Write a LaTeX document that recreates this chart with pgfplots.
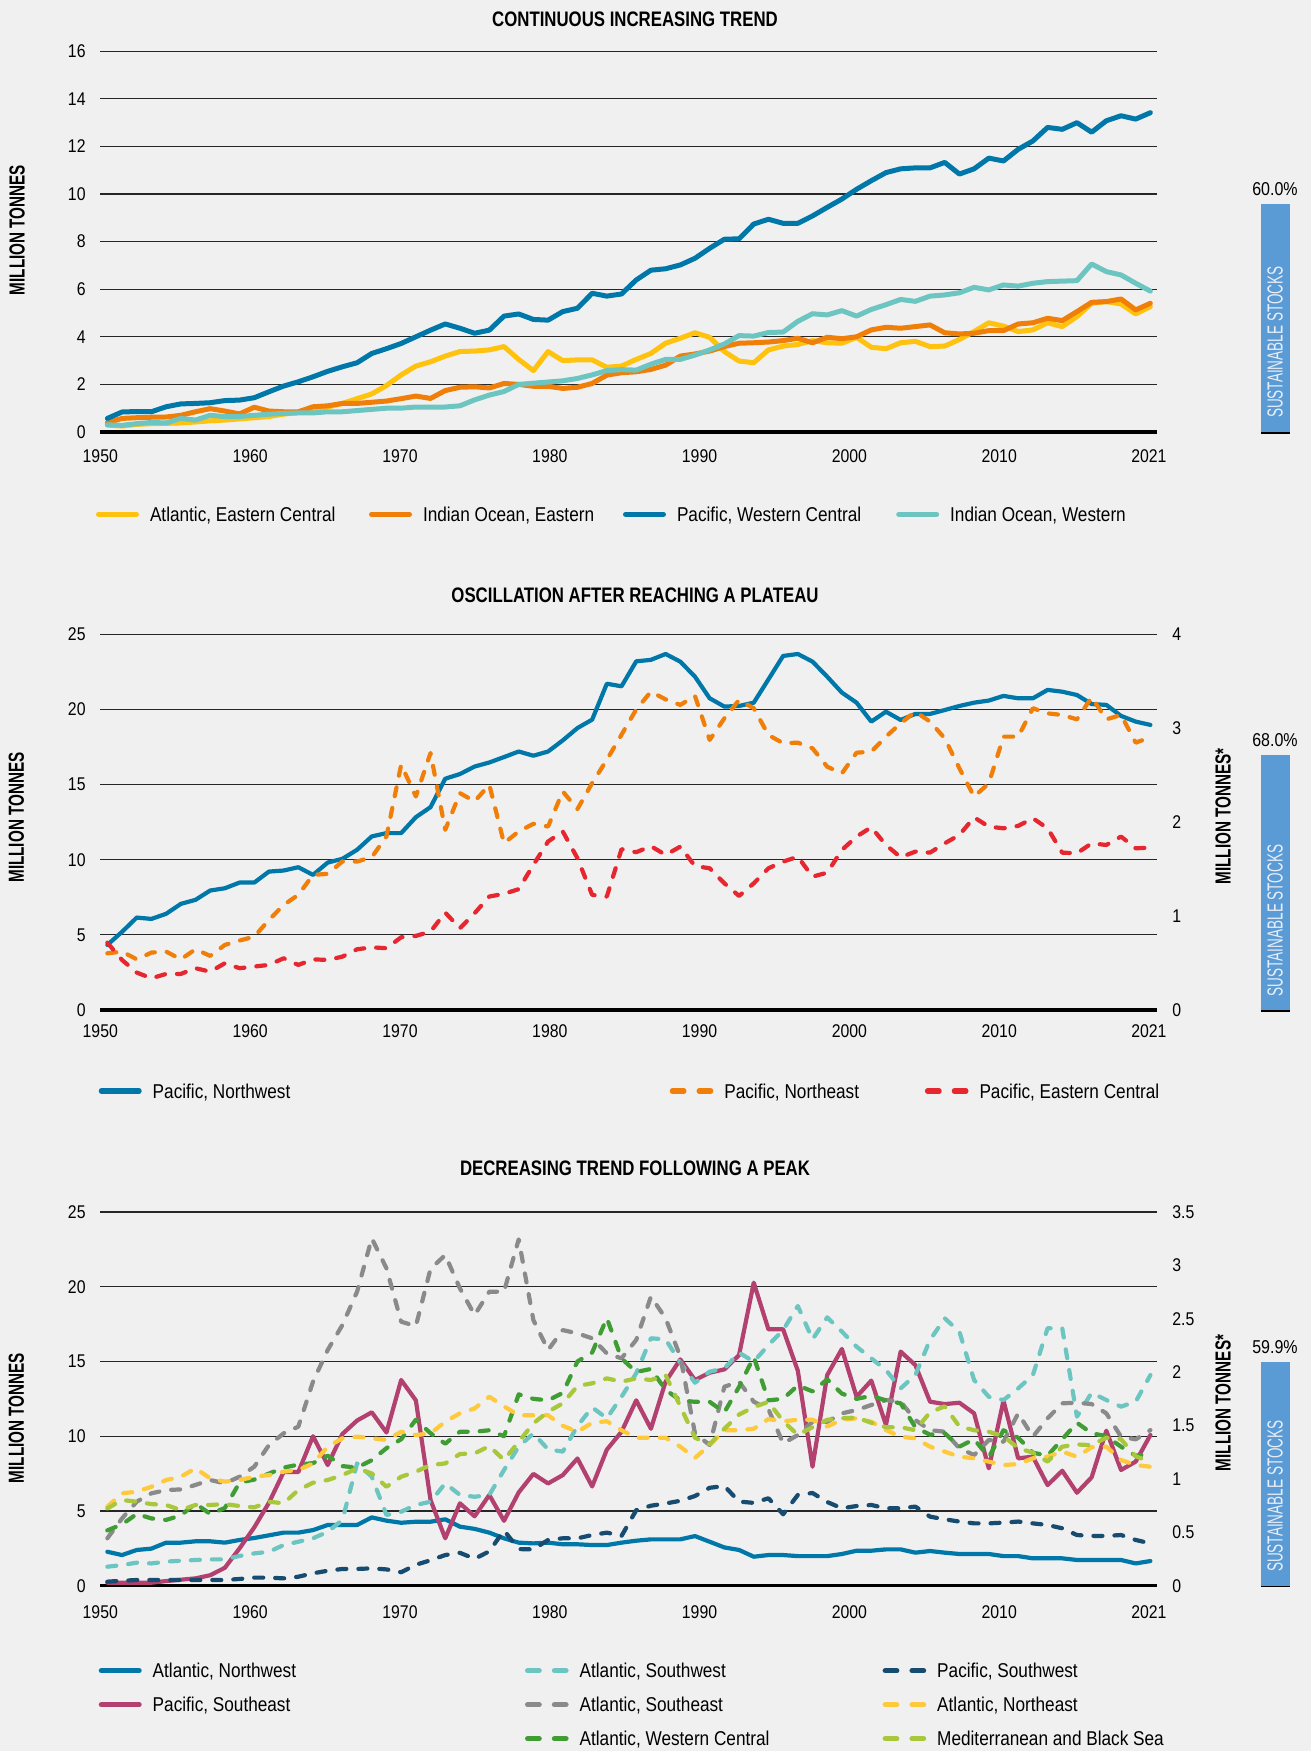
\documentclass[border=0pt]{standalone}
\usepackage{fontspec}
\setmainfont{Liberation Sans}
\newfontfamily\condf[FakeStretch=0.86]{Liberation Sans}
\newfontfamily\titlef[FakeStretch=0.80]{Liberation Sans}
\newfontfamily\labf[FakeStretch=0.70]{Liberation Sans}
\newfontfamily\barf[FakeStretch=0.62]{Liberation Sans}
\usepackage{pgfplots}
\usepackage{pgfplotstable}
\pgfplotsset{compat=1.18}

\definecolor{bgc}{HTML}{F0F0F0}
\definecolor{cblue}{HTML}{0077A9}
\definecolor{cyellow}{HTML}{FFC20E}
\definecolor{corange}{HTML}{F07F09}
\definecolor{cteal}{HTML}{6CC5C0}
\definecolor{cred}{HTML}{E6272F}
\definecolor{cpink}{HTML}{B3416F}
\definecolor{cgray}{HTML}{8A8A8A}
\definecolor{cgreen}{HTML}{3F9D34}
\definecolor{cnavy}{HTML}{174C70}
\definecolor{cgold}{HTML}{FFC93C}
\definecolor{clime}{HTML}{A9C73A}
\definecolor{cbar}{HTML}{5B9BD5}
\definecolor{cbartext}{HTML}{E8EEF7}

\pgfplotstableread[row sep=\\]{
year aec ioe pwc iow\\
1950 0.29 0.39 0.57 0.30\\
1951 0.25 0.57 0.84 0.28\\
1952 0.32 0.60 0.86 0.35\\
1953 0.35 0.62 0.85 0.40\\
1954 0.36 0.63 1.06 0.38\\
1955 0.38 0.70 1.18 0.57\\
1956 0.42 0.85 1.20 0.50\\
1957 0.47 0.98 1.23 0.70\\
1958 0.50 0.88 1.32 0.65\\
1959 0.55 0.76 1.34 0.65\\
1960 0.60 1.04 1.44 0.70\\
1961 0.65 0.88 1.69 0.75\\
1962 0.75 0.85 1.93 0.78\\
1963 0.82 0.85 2.11 0.80\\
1964 0.95 1.06 2.32 0.80\\
1965 1.05 1.10 2.55 0.85\\
1966 1.20 1.20 2.74 0.85\\
1967 1.40 1.20 2.91 0.90\\
1968 1.60 1.25 3.30 0.95\\
1969 1.95 1.30 3.50 1.00\\
1970 2.40 1.40 3.72 1.00\\
1971 2.77 1.51 4.00 1.05\\
1972 2.95 1.41 4.28 1.05\\
1973 3.19 1.74 4.54 1.05\\
1974 3.38 1.88 4.36 1.10\\
1975 3.40 1.90 4.15 1.35\\
1976 3.45 1.85 4.28 1.55\\
1977 3.59 2.04 4.87 1.70\\
1978 3.05 2.00 4.96 2.00\\
1979 2.58 1.92 4.73 2.05\\
1980 3.38 1.92 4.70 2.10\\
1981 3.00 1.83 5.06 2.15\\
1982 3.03 1.88 5.20 2.25\\
1983 3.03 2.04 5.83 2.40\\
1984 2.72 2.39 5.71 2.58\\
1985 2.77 2.49 5.80 2.62\\
1986 3.05 2.53 6.39 2.60\\
1987 3.30 2.63 6.80 2.85\\
1988 3.73 2.81 6.86 3.05\\
1989 3.94 3.19 7.02 3.05\\
1990 4.17 3.28 7.30 3.23\\
1991 3.98 3.40 7.72 3.45\\
1992 3.38 3.59 8.10 3.70\\
1993 2.98 3.73 8.12 4.05\\
1994 2.91 3.75 8.74 4.03\\
1995 3.45 3.78 8.94 4.18\\
1996 3.61 3.84 8.77 4.20\\
1997 3.68 3.94 8.77 4.65\\
1998 3.84 3.75 9.08 4.97\\
1999 3.75 3.98 9.44 4.92\\
2000 3.73 3.92 9.79 5.10\\
2001 3.98 4.00 10.20 4.87\\
2002 3.56 4.29 10.56 5.15\\
2003 3.50 4.40 10.90 5.35\\
2004 3.75 4.36 11.06 5.57\\
2005 3.81 4.43 11.10 5.49\\
2006 3.59 4.50 11.10 5.71\\
2007 3.61 4.17 11.33 5.76\\
2008 3.89 4.12 10.84 5.85\\
2009 4.22 4.15 11.06 6.08\\
2010 4.59 4.26 11.51 5.97\\
2011 4.45 4.26 11.39 6.18\\
2012 4.22 4.54 11.88 6.13\\
2013 4.29 4.59 12.23 6.25\\
2014 4.59 4.78 12.80 6.32\\
2015 4.43 4.68 12.72 6.34\\
2016 4.85 5.06 13.00 6.36\\
2017 5.41 5.45 12.60 7.06\\
2018 5.48 5.48 13.08 6.74\\
2019 5.38 5.59 13.29 6.60\\
2020 4.96 5.13 13.15 6.25\\
2021 5.27 5.41 13.42 5.92\\
}\tA

\pgfplotstableread[row sep=\\]{
year pnw pne pec\\
1950 4.33 3.77 4.48\\
1951 5.20 3.89 3.33\\
1952 6.15 3.37 2.49\\
1953 6.06 3.82 2.11\\
1954 6.40 3.89 2.40\\
1955 7.06 3.37 2.40\\
1956 7.33 4.04 2.78\\
1957 7.95 3.60 2.55\\
1958 8.10 4.33 3.11\\
1959 8.48 4.62 2.78\\
1960 8.48 4.88 2.89\\
1961 9.21 5.99 3.00\\
1962 9.28 6.99 3.44\\
1963 9.50 7.66 3.00\\
1964 8.99 8.99 3.37\\
1965 9.81 9.06 3.33\\
1966 10.06 9.88 3.55\\
1967 10.66 9.88 4.04\\
1968 11.55 10.17 4.17\\
1969 11.77 11.55 4.11\\
1970 11.77 16.32 4.84\\
1971 12.83 14.21 4.93\\
1972 13.50 17.10 5.22\\
1973 15.39 11.99 6.48\\
1974 15.70 14.43 5.44\\
1975 16.20 13.88 6.44\\
1976 16.47 14.99 7.55\\
1977 16.83 11.10 7.73\\
1978 17.20 11.88 8.04\\
1979 16.92 12.39 9.66\\
1980 17.20 12.21 11.21\\
1981 17.94 14.54 11.88\\
1982 18.76 13.37 10.10\\
1983 19.32 15.10 7.66\\
1984 21.71 16.65 7.55\\
1985 21.54 18.32 10.70\\
1986 23.20 20.00 10.50\\
1987 23.30 21.18 10.90\\
1988 23.69 20.67 10.32\\
1989 23.18 20.30 10.87\\
1990 22.18 20.90 9.58\\
1991 20.74 17.97 9.43\\
1992 20.19 19.41 8.43\\
1993 20.23 20.63 7.59\\
1994 20.45 20.08 8.43\\
1995 22.00 18.30 9.43\\
1996 23.56 17.75 9.87\\
1997 23.69 17.79 10.20\\
1998 23.18 17.41 8.87\\
1999 22.18 16.19 9.14\\
2000 21.12 15.75 10.65\\
2001 20.45 17.12 11.54\\
2002 19.19 17.19 12.16\\
2003 19.85 18.19 10.98\\
2004 19.30 19.08 10.16\\
2005 19.70 19.85 10.54\\
2006 19.70 19.19 10.47\\
2007 19.96 18.08 11.09\\
2008 20.23 16.08 11.65\\
2009 20.45 14.20 12.82\\
2010 20.59 15.08 12.20\\
2011 20.90 18.19 12.09\\
2012 20.74 18.19 12.25\\
2013 20.74 20.08 12.76\\
2014 21.30 19.74 12.09\\
2015 21.18 19.63 10.47\\
2016 20.96 19.34 10.43\\
2017 20.36 20.81 11.09\\
2018 20.30 19.34 10.98\\
2019 19.57 19.63 11.54\\
2020 19.19 17.79 10.76\\
2021 18.97 18.15 10.80\\
}\tB

\pgfplotstableread[row sep=\\]{
year anw pse asw ase awc psw ane med\\
1950 2.27 0.20 1.27 3.17 3.7 0.27 5.29 5.17\\
1951 2.05 0.20 1.38 4.50 4.1 0.33 6.18 5.73\\
1952 2.39 0.20 1.54 5.62 4.8 0.38 6.29 5.62\\
1953 2.48 0.20 1.49 6.18 4.5 0.38 6.62 5.46\\
1954 2.88 0.31 1.61 6.40 4.4 0.38 7.07 5.40\\
1955 2.88 0.40 1.67 6.44 4.7 0.38 7.29 5.06\\
1956 2.97 0.49 1.72 6.74 5.5 0.38 7.85 5.40\\
1957 2.97 0.70 1.76 7.07 4.8 0.38 7.18 5.40\\
1958 2.88 1.20 1.76 6.85 5.2 0.38 6.96 5.46\\
1959 3.06 2.50 1.99 7.29 6.9 0.45 7.07 5.33\\
1960 3.19 3.90 2.16 7.96 7.1 0.54 7.29 5.24\\
1961 3.37 5.55 2.27 9.41 7.5 0.54 7.40 5.62\\
1962 3.55 7.60 2.72 10.19 7.9 0.49 7.63 5.51\\
1963 3.55 7.60 2.94 10.64 8.1 0.60 7.74 6.40\\
1964 3.72 10.00 3.17 13.65 8.2 0.83 8.18 6.89\\
1965 4.06 8.07 3.61 15.77 8.7 1.00 9.30 7.07\\
1966 4.06 10.15 4.39 17.44 8.0 1.12 9.86 7.40\\
1967 4.06 11.05 8.18 19.67 7.9 1.12 9.97 7.85\\
1968 4.57 11.60 7.29 23.24 8.4 1.16 9.86 7.51\\
1969 4.35 10.25 4.73 21.23 9.2 1.09 9.75 6.62\\
1970 4.21 13.76 4.95 17.66 9.8 0.90 10.30 7.29\\
1971 4.28 12.40 5.40 17.37 11.1 1.40 10.08 7.63\\
1972 4.28 5.73 5.62 21.20 10.2 1.70 10.19 8.07\\
1973 4.44 3.17 6.85 22.12 9.5 2.05 10.97 8.18\\
1974 3.95 5.51 6.07 19.89 10.3 2.20 11.53 8.81\\
1975 3.80 4.64 5.95 18.11 10.3 1.80 11.86 8.85\\
1976 3.55 6.07 6.07 19.67 10.4 2.30 12.64 9.34\\
1977 3.17 4.34 7.74 19.67 10.0 3.70 12.00 8.41\\
1978 2.88 6.24 9.30 23.17 12.8 2.45 11.40 9.63\\
1979 2.83 7.48 10.19 17.77 12.5 2.43 11.40 10.86\\
1980 2.88 6.84 9.12 15.77 12.4 3.06 11.40 11.64\\
1981 2.77 7.40 8.97 17.10 12.9 3.17 10.70 12.20\\
1982 2.77 8.51 10.68 16.88 15.0 3.17 10.30 13.36\\
1983 2.72 6.64 11.93 16.55 15.6 3.39 10.90 13.54\\
1984 2.72 9.10 11.20 15.54 17.9 3.55 11.00 13.87\\
1985 2.88 10.30 12.64 15.21 15.2 3.33 10.40 13.65\\
1986 3.01 12.40 14.21 16.44 14.3 5.05 9.90 13.87\\
1987 3.10 10.50 16.55 19.34 14.5 5.35 9.90 13.76\\
1988 3.10 13.65 16.48 17.89 13.1 5.50 9.90 14.09\\
1989 3.10 15.14 14.92 15.32 12.4 5.68 9.30 12.00\\
1990 3.32 13.76 13.58 10.19 12.3 6.00 8.55 9.90\\
1991 2.94 14.25 14.32 9.41 12.3 6.55 9.40 9.45\\
1992 2.56 14.47 14.54 13.31 11.6 6.67 10.40 10.50\\
1993 2.39 15.43 15.59 13.65 13.3 5.63 10.40 11.45\\
1994 1.94 20.27 14.99 12.31 15.3 5.54 10.50 11.95\\
1995 2.05 17.15 16.10 11.80 12.4 5.85 11.15 12.30\\
1996 2.05 17.15 17.10 9.52 12.5 4.78 11.00 11.00\\
1997 1.98 14.38 18.71 10.08 13.4 6.07 11.10 10.10\\
1998 1.98 7.96 16.48 10.97 13.0 6.20 11.10 10.60\\
1999 1.98 14.09 17.95 10.97 13.8 5.60 10.65 11.10\\
2000 2.12 15.84 17.00 11.53 12.85 5.18 11.10 11.20\\
2001 2.34 12.64 15.99 11.75 12.5 5.33 11.20 11.25\\
2002 2.34 13.72 15.21 12.09 12.7 5.40 10.97 10.90\\
2003 2.43 10.75 14.43 12.42 12.4 5.18 10.41 10.60\\
2004 2.43 15.66 13.20 12.31 12.2 5.18 9.97 10.60\\
2005 2.21 14.76 14.09 11.08 10.6 5.29 9.86 10.40\\
2006 2.32 12.31 16.44 10.41 10.1 4.62 9.30 11.60\\
2007 2.21 12.15 17.89 10.30 10.2 4.44 8.97 12.00\\
2008 2.12 12.24 16.99 9.19 9.3 4.29 8.63 10.65\\
2009 2.12 11.53 13.76 8.74 9.8 4.17 8.52 10.40\\
2010 2.12 7.85 12.64 9.75 8.6 4.17 8.30 10.30\\
2011 1.98 12.38 12.42 9.63 10.4 4.22 8.07 10.00\\
2012 1.98 8.52 13.20 11.53 9.9 4.29 8.14 9.20\\
2013 1.83 8.63 14.09 9.97 8.9 4.17 8.52 8.90\\
2014 1.83 6.73 17.22 11.20 8.7 4.06 8.63 8.30\\
2015 1.83 7.69 17.22 12.20 9.8 3.84 8.97 9.30\\
2016 1.72 6.22 11.31 12.24 10.9 3.39 8.63 9.45\\
2017 1.72 7.25 12.91 12.15 10.2 3.33 9.26 9.40\\
2018 1.72 10.37 12.42 11.53 10.0 3.33 9.30 9.90\\
2019 1.72 7.74 11.98 9.97 9.3 3.39 8.41 9.80\\
2020 1.49 8.30 12.31 9.79 8.7 3.06 8.07 8.65\\
2021 1.65 10.08 14.09 10.41 8.8 2.83 7.96 8.30\\
}\tC

\pgfplotsset{
  panel/.style={
    scale only axis, width=528.5pt,
    xmin=1949.5, xmax=2021.45, enlargelimits=false,
    axis x line*=bottom, axis y line*=left,
    x axis line style={line width=1.6pt, -, black},
    y axis line style={draw=none},
    xtick={1949.52,1959.72,1969.92,1980.12,1990.31,2000.51,2010.71,2020.90},
    xticklabels={1950,1960,1970,1980,1990,2000,2010,2021},
    major tick length=0pt, tick style={draw=none},
    ymajorgrids, major grid style={draw=black!85, line width=0.55pt},
    /pgf/number format/assume math mode=true,
    tick label style={font=\condf\fontsize{9.2}{10}\selectfont, inner sep=0pt},
    xticklabel style={anchor=north},
    yticklabel style={anchor=east, xshift=-7pt},
    clip=false,
    legend cell align=left,
    legend style={draw=none, fill=none, inner sep=0pt, outer sep=0pt, column sep=0pt,
      /tikz/every odd column/.append style={column sep=5.5pt},
      nodes={inner sep=0pt, anchor=west, text height=7.2pt, text depth=0pt,
             font=\condf\fontsize{10}{12}\selectfont}},
  },
  raxis/.style={
    scale only axis, width=528.5pt,
    xmin=1949.5, xmax=2021.45, enlargelimits=false,
    axis x line=none, axis y line*=right,
    y axis line style={draw=none},
    major tick length=0pt, tick style={draw=none},
    /pgf/number format/assume math mode=true,
    tick label style={font=\condf\fontsize{9.2}{10}\selectfont, inner sep=0pt},
    yticklabel style={anchor=west, xshift=7.5pt},
  },
  sbar/.style={
    scale only axis, width=14.5pt, xmin=-0.5, xmax=0.5, ymin=0, ymax=100,
    enlargelimits=false,
    axis x line*=bottom, axis y line=none,
    x axis line style={line width=1.6pt, -, black},
    xtick=\empty, ytick=\empty, clip=false,
    ybar, bar width=14.5pt,
    /pgf/number format/assume math mode=true,
    nodes near coords={\pgfmathprintnumber[fixed,fixed zerofill,precision=1]{\pgfplotspointmeta}\%},
    nodes near coords style={font=\condf\fontsize{9.3}{10}\selectfont, anchor=south,
      inner sep=0pt, yshift=3.8pt, text=black},
  },
  ln1/.style={line width=2.5pt, line join=round, line cap=round},
  ln/.style={line width=2.1pt, line join=round, line cap=round},
  dsh/.style={line width=2.1pt, line join=round, line cap=round, dash pattern=on 4.5pt off 6pt},
  legsolid/.style={legend image code/.code={%
    \path[draw=none, fill=none] (0pt,-1pt) rectangle (21.5pt,1pt);
    \draw[solid, line width=2.7pt, line cap=round] (1.35pt,0pt) -- (20.15pt,0pt);}},
  legdash/.style={legend image code/.code={%
    \path[draw=none, fill=none] (0pt,-1pt) rectangle (21.8pt,1pt);
    \draw[solid, line width=2.6pt, line cap=round] (1.3pt,0pt) -- (7.1pt,0pt);
    \draw[solid, line width=2.6pt, line cap=round] (14.7pt,0pt) -- (20.5pt,0pt);}},
}

\newcommand{\stocktext}{\node[rotate=90, anchor=west, inner sep=0pt, text=cbartext,
   font=\barf\fontsize{10.9}{12}\selectfont] at (axis cs:0,3.6) {SUSTAINABLE STOCKS};}

\begin{document}
\begin{tikzpicture}
\fill[bgc] (0,0) rectangle (655.5pt,875.5pt);
\useasboundingbox (0,0) rectangle (655.5pt,875.5pt);

% titles
\node[font=\titlef\bfseries\fontsize{10.5}{12}\selectfont] at (317.5pt,865.75pt) {CONTINUOUS INCREASING TREND};
\node[font=\titlef\bfseries\fontsize{10.5}{12}\selectfont] at (317.5pt,578pt) {OSCILLATION AFTER REACHING A PLATEAU};
\node[font=\titlef\bfseries\fontsize{10.5}{12}\selectfont] at (317.5pt,291.5pt) {DECREASING TREND FOLLOWING A PEAK};

% axis labels
\node[rotate=90, font=\labf\bfseries\fontsize{10.9}{12}\selectfont] at (8.5pt,760.5pt) {MILLION TONNES};
\node[rotate=90, font=\labf\bfseries\fontsize{10.9}{12}\selectfont] at (8.2pt,466.75pt) {MILLION TONNES};
\node[rotate=90, font=\labf\bfseries\fontsize{10.9}{12}\selectfont] at (8.2pt,166.5pt) {MILLION TONNES};
\node[rotate=90, font=\labf\bfseries\fontsize{10.9}{12}\selectfont] at (611.5pt,467.25pt) {MILLION TONNES*};
\node[rotate=90, font=\labf\bfseries\fontsize{10.9}{12}\selectfont] at (611.5pt,174pt) {MILLION TONNES*};

% ---------------- Panel 1 ----------------
\begin{axis}[panel, at={(50pt,659.5pt)}, anchor=south west, height=190.35pt,
  ymin=0, ymax=16, ytick={0,2,...,16},
  xticklabel style={yshift=-8.45pt},
  legend columns=4,
  legend style={at={(-0.00378,-0.2162)}, anchor=west}]
\addplot[cyellow, ln1, legsolid] table[x=year,y=aec]{\tA};
\addlegendentry{\makebox[109.5pt][l]{Atlantic, Eastern Central}}
\addplot[corange, ln1, legsolid] table[x=year,y=ioe]{\tA};
\addlegendentry{\makebox[100pt][l]{Indian Ocean, Eastern}}
\addplot[cblue, ln1, legsolid] table[x=year,y=pwc]{\tA};
\addlegendentry{\makebox[109.6pt][l]{Pacific, Western Central}}
\addplot[cteal, ln1, legsolid] table[x=year,y=iow]{\tA};
\addlegendentry{Indian Ocean, Western}
\end{axis}
\begin{axis}[sbar, at={(630.25pt,659.5pt)}, anchor=south west, height=190.35pt]
\addplot[fill=cbar, draw=none] coordinates {(0,60.0)};
\stocktext
\end{axis}

% ---------------- Panel 2 ----------------
\begin{axis}[panel, at={(50pt,370.5pt)}, anchor=south west, height=187.85pt,
  ymin=0, ymax=25, ytick={0,5,...,25},
  xticklabel style={yshift=-7.2pt},
  legend columns=3,
  legend style={at={(-0.0012,-0.2156)}, anchor=west}]
\addplot[cblue, ln, legsolid] table[x=year,y=pnw]{\tB};
\addlegendentry{\makebox[258.5pt][l]{Pacific, Northwest}}
\addplot[corange, dsh, legdash] table[x=year,y=pne]{\tB};
\addlegendentry{\makebox[100.3pt][l]{Pacific, Northeast}}
\addplot[cred, dsh, legdash] table[x=year,y=pec]{\tB};
\addlegendentry{Pacific, Eastern Central}
\end{axis}
\begin{axis}[raxis, at={(50pt,370.5pt)}, anchor=south west, height=187.85pt,
  ymin=0, ymax=4, ytick={0,1,2,3,4}]
\end{axis}
\begin{axis}[sbar, at={(630.25pt,370.5pt)}, anchor=south west, height=187.85pt]
\addplot[fill=cbar, draw=none] coordinates {(0,68.0)};
\stocktext
\end{axis}

% ---------------- Panel 3 ----------------
\begin{axis}[panel, at={(50pt,82.65pt)}, anchor=south west, height=186.85pt,
  ymin=0, ymax=25, ytick={0,5,...,25},
  xticklabel style={yshift=-9.7pt},
  legend columns=3,
  legend style={at={(-0.0012,-0.2082)}, anchor=north west, row sep=9.8pt}]
\addplot[cblue, ln, forget plot] table[x=year,y=anw]{\tC};
\addplot[cpink, ln, forget plot] table[x=year,y=pse]{\tC};
\addplot[cteal, dsh, forget plot] table[x=year,y=asw]{\tC};
\addplot[cgray, dsh, forget plot] table[x=year,y=ase]{\tC};
\addplot[cgreen, dsh, forget plot] table[x=year,y=awc]{\tC};
\addplot[cnavy, dsh, forget plot] table[x=year,y=psw]{\tC};
\addplot[cgold, dsh, forget plot] table[x=year,y=ane]{\tC};
\addplot[clime, dsh, forget plot] table[x=year,y=med]{\tC};
\addlegendimage{cblue, legsolid}
\addlegendentry{\makebox[186.15pt][l]{Atlantic, Northwest}}
\addlegendimage{cteal, legdash}
\addlegendentry{\makebox[151.5pt][l]{Atlantic, Southwest}}
\addlegendimage{cnavy, legdash}
\addlegendentry{Pacific, Southwest}
\addlegendimage{cpink, legsolid}
\addlegendentry{\makebox[186.15pt][l]{Pacific, Southeast}}
\addlegendimage{cgray, legdash}
\addlegendentry{\makebox[151.5pt][l]{Atlantic, Southeast}}
\addlegendimage{cgold, legdash}
\addlegendentry{Atlantic, Northeast}
\addlegendimage{empty legend}
\addlegendentry{\makebox[186.15pt][l]{}}
\addlegendimage{cgreen, legdash}
\addlegendentry{\makebox[151.5pt][l]{Atlantic, Western Central}}
\addlegendimage{clime, legdash}
\addlegendentry{Mediterranean and Black Sea}
\end{axis}
\begin{axis}[raxis, at={(50pt,82.65pt)}, anchor=south west, height=186.85pt,
  ymin=0, ymax=3.5, ytick={0,0.5,...,3.5}]
\end{axis}
\begin{axis}[sbar, at={(630.25pt,82.65pt)}, anchor=south west, height=186.85pt]
\addplot[fill=cbar, draw=none] coordinates {(0,59.9)};
\stocktext
\end{axis}
\end{tikzpicture}
\end{document}
